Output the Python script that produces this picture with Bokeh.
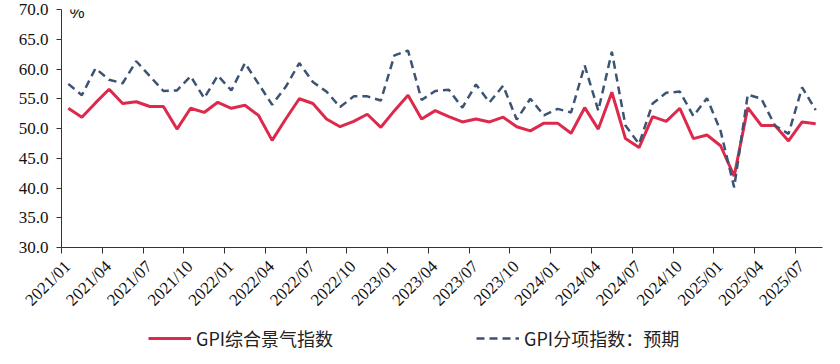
from bokeh.plotting import figure
from bokeh.layouts import column
from bokeh.models import (Range1d, FixedTicker, NumeralTickFormatter, LinearAxis, Label,
                          Legend, LegendItem)
from bokeh.embed import file_html
from bokeh.resources import INLINE
import math

# monthly data 2021/01 .. 2025/08
composite = [53.4, 51.9, 54.3, 56.6, 54.2, 54.5, 53.7, 53.7, 49.9, 53.4,
             52.7, 54.4, 53.4, 53.9, 52.2, 48.0, 51.6, 55.0, 54.2, 51.6,
             50.3, 51.2, 52.4, 50.2, 53.0, 55.6, 51.6, 53.0, 52.0, 51.1,
             51.6, 51.1, 51.9, 50.3, 49.6, 50.9, 50.9, 49.2, 53.5, 49.9,
             56.1, 48.3, 46.8, 52.0, 51.2, 53.4, 48.3, 48.9, 47.1, 42.0,
             53.5, 50.5, 50.5, 47.9, 51.1, 50.8]
expectation = [57.5, 55.6, 60.1, 58.2, 57.6, 61.3, 58.8, 56.3, 56.4, 58.8,
               55.1, 58.9, 56.4, 61.0, 57.5, 54.0, 57.0, 61.0, 57.8, 56.2,
               53.6, 55.4, 55.4, 54.7, 62.3, 63.1, 54.8, 56.3, 56.5, 53.5,
               57.4, 54.4, 57.2, 51.5, 55.0, 52.2, 53.3, 52.7, 60.6, 53.0,
               62.9, 50.5, 47.4, 54.2, 56.0, 56.2, 52.1, 55.1, 49.6, 40.1,
               55.7, 55.0, 50.5, 49.1, 56.9, 53.1]
tick_labels = ["2021/01", "2021/04", "2021/07", "2021/10", "2022/01", "2022/04",
               "2022/07", "2022/10", "2023/01", "2023/04", "2023/07", "2023/10",
               "2024/01", "2024/04", "2024/07", "2024/10", "2025/01", "2025/04",
               "2025/07"]
series_names = ["GPI综合景气指数", "GPI分项指数：预期"]
y_ticks = [30, 35, 40, 45, 50, 55, 60, 65, 70]

RED = "#DD2A4C"
BLUE = "#3C5474"
RED_STYLE = dict(line_color=RED, line_width=3)
BLUE_STYLE = dict(line_color=BLUE, line_width=2.5, line_dash="8 5")

n = len(composite)
xs = [i + 0.5 for i in range(n)]
tick_pos = [3 * k for k in range(len(tick_labels))]

W = 838
p = figure(width=W, height=320, output_backend="svg", toolbar_location=None,
           x_range=Range1d(0, n), y_range=Range1d(30, 70))
p.min_border = 0
p.min_border_left = 61
p.min_border_right = 16
p.min_border_top = 9
p.min_border_bottom = 73
p.outline_line_color = None
p.background_fill_color = "white"
p.border_fill_color = "white"
p.grid.visible = False

# label axis uses a slightly shifted range so the rotated labels sit like the original
label_shift = 0.45
p.extra_x_ranges = {"labels": Range1d(-label_shift, n - label_shift)}

# main axes
p.xaxis.ticker = FixedTicker(ticks=tick_pos)
p.xaxis.major_label_overrides = {t: "" for t in tick_pos}
p.xaxis.major_label_standoff = 0
p.xaxis.minor_tick_line_color = None
p.xaxis.major_tick_out = 6
p.xaxis.major_tick_in = 0
p.xaxis.axis_line_color = "#333333"
p.xaxis.major_tick_line_color = "#333333"

p.yaxis.ticker = FixedTicker(ticks=y_ticks)
p.yaxis.formatter = NumeralTickFormatter(format="0.0")
p.yaxis.minor_tick_line_color = None
p.yaxis.major_tick_out = 5
p.yaxis.major_tick_in = 0
p.yaxis.axis_line_color = "#333333"
p.yaxis.major_tick_line_color = "#333333"
p.yaxis.major_label_text_font = "Liberation Serif"
p.yaxis.major_label_text_font_size = "17px"
p.yaxis.major_label_text_color = "#111111"
p.yaxis.major_label_standoff = 8

lab_axis = LinearAxis(x_range_name="labels", ticker=FixedTicker(ticks=tick_pos),
                      major_label_overrides={t: l for t, l in zip(tick_pos, tick_labels)},
                      major_label_orientation=math.pi / 4,
                      axis_line_color=None, major_tick_line_color=None,
                      minor_tick_line_color=None, major_tick_out=0, major_tick_in=0,
                      major_label_standoff=10,
                      major_label_text_font="Liberation Serif",
                      major_label_text_font_size="17px",
                      major_label_text_color="#111111")
p.add_layout(lab_axis, "below")

p.line(xs, composite, **RED_STYLE)
p.line(xs, expectation, **BLUE_STYLE)

p.add_layout(Label(x=0.59, y=69.46, text="%", text_font="Liberation Sans",
                   text_font_size="17px", text_baseline="middle", text_color="#111111"))

# legend strip underneath
lg = figure(width=W, height=40, output_backend="svg", toolbar_location=None,
            x_range=Range1d(0, 1), y_range=Range1d(0, 1),
            x_axis_location=None, y_axis_location=None)
lg.min_border = 0
lg.outline_line_color = None
lg.grid.visible = False
# sample renderers kept outside the visible range; only their legend glyphs show
lr1 = lg.line([2, 3], [2, 2], **RED_STYLE)
lr2 = lg.line([2, 3], [2, 2], **BLUE_STYLE)
legend = Legend(items=[LegendItem(label=series_names[0], renderers=[lr1]),
                       LegendItem(label=series_names[1], renderers=[lr2])],
                location=(87, 9), orientation="horizontal",
                label_text_font="Noto Sans CJK SC", label_text_font_size="18px",
                label_text_color="#222222",
                glyph_width=43, glyph_height=20, label_standoff=5, spacing=143,
                padding=0, margin=0, border_line_color=None,
                background_fill_alpha=0)
lg.add_layout(legend, "center")

open("out.html", "w").write(file_html(column(p, lg, spacing=0), INLINE))
